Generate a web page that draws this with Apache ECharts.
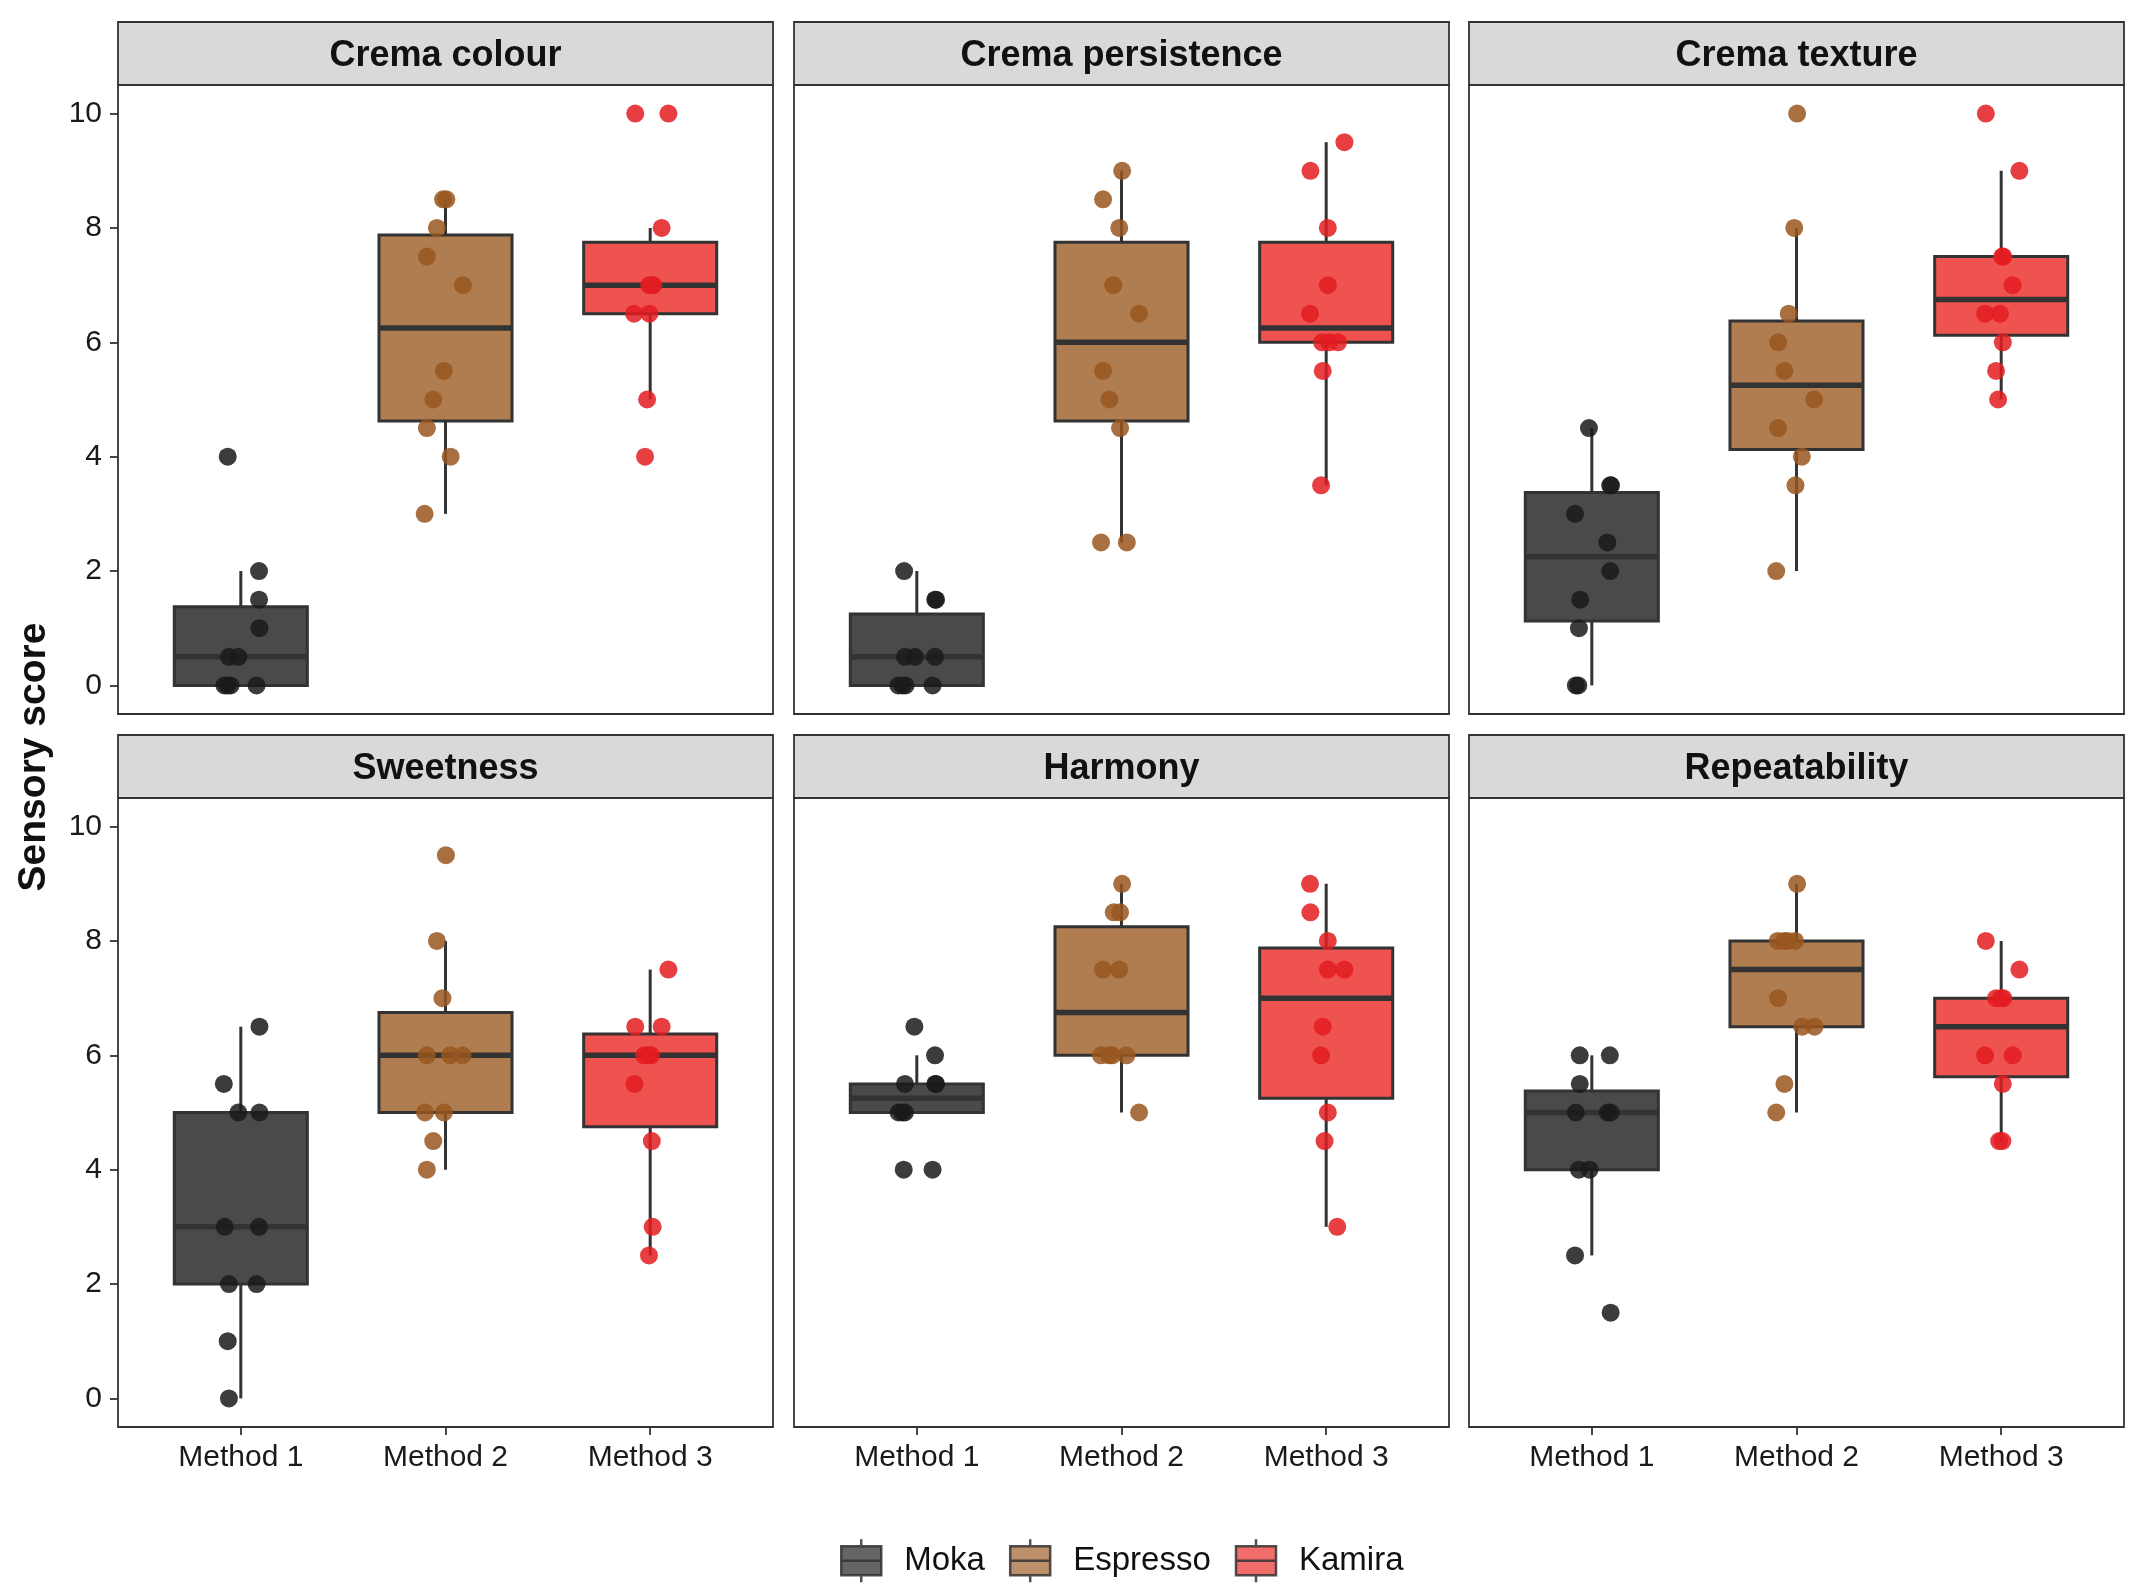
<!DOCTYPE html>
<html>
<head>
<meta charset="utf-8">
<script src="https://cdn.jsdelivr.net/npm/echarts@6/dist/echarts.min.js"></script>
<style>
  body { margin: 0; background: #fff; }
  #chart { width: 2145px; height: 1595px; }
</style>
</head>
<body>
<div id="chart"></div>
<script>
// panels, x categories and groups
const panelTitles = ['Crema colour', 'Crema persistence', 'Crema texture', 'Sweetness', 'Harmony', 'Repeatability'];
const methods = ['Method 1', 'Method 2', 'Method 3'];
const groups = ['Moka', 'Espresso', 'Kamira'];
const yTicks = [0, 2, 4, 6, 8, 10];

// scores per panel: [Moka, Espresso, Kamira]
const cremaColour = [
    [4, 2, 1.5, 1, 0.5, 0.5, 0, 0, 0, 0],
    [8.5, 8.5, 8, 7.5, 7, 5.5, 5, 4.5, 4, 3],
    [10, 10, 8, 7, 7, 7, 6.5, 6.5, 5, 4]
];
const cremaPersistence = [
    [2, 1.5, 1.5, 0.5, 0.5, 0.5, 0, 0, 0, 0],
    [9, 8.5, 8, 7, 6.5, 5.5, 5, 4.5, 2.5, 2.5],
    [9.5, 9, 8, 7, 6.5, 6, 6, 6, 5.5, 3.5]
];
const cremaTexture = [
    [4.5, 3.5, 3.5, 3, 2.5, 2, 1.5, 1, 0, 0],
    [10, 8, 6.5, 6, 5.5, 5, 4.5, 4, 3.5, 2],
    [10, 9, 7.5, 7.5, 7, 6.5, 6.5, 6, 5.5, 5]
];
const sweetness = [
    [6.5, 5.5, 5, 5, 3, 3, 2, 2, 1, 0],
    [9.5, 8, 7, 6, 6, 6, 5, 5, 4.5, 4],
    [7.5, 6.5, 6.5, 6, 6, 6, 5.5, 4.5, 3, 2.5]
];
const harmony = [
    [6.5, 6, 5.5, 5.5, 5.5, 5, 5, 5, 4, 4],
    [9, 8.5, 8.5, 7.5, 7.5, 6, 6, 6, 6, 5],
    [9, 8.5, 8, 7.5, 7.5, 6.5, 6, 5, 4.5, 3]
];
const repeatability = [
    [6, 6, 5.5, 5, 5, 5, 4, 4, 2.5, 1.5],
    [9, 8, 8, 8, 8, 7, 6.5, 6.5, 5.5, 5],
    [8, 7.5, 7, 7, 7, 6, 6, 5.5, 4.5, 4.5]
];

// horizontal jitter of each point (in category units)
const cremaColourJitter = [
    [-0.064, 0.089, 0.089, 0.091, -0.058, -0.012, -0.08, -0.065, -0.05, 0.077],
    [-0.012, 0.004, -0.042, -0.091, 0.085, -0.008, -0.06, -0.091, 0.025, -0.102],
    [-0.073, 0.089, 0.056, 0.008, -0.005, 0.015, -0.079, -0.004, -0.015, -0.025]
];
const cremaPersistenceJitter = [
    [-0.062, 0.094, 0.09, -0.058, -0.01, 0.089, -0.09, -0.07, -0.055, 0.077],
    [0.003, -0.09, -0.011, -0.04, 0.086, -0.09, -0.059, -0.007, -0.1, 0.026],
    [0.089, -0.077, 0.008, 0.008, -0.079, -0.02, 0.015, 0.058, -0.017, -0.025]
];
const cremaTextureJitter = [
    [-0.014, 0.094, 0.09, -0.082, 0.076, 0.09, -0.057, -0.063, -0.078, -0.066],
    [0.003, -0.011, -0.038, -0.09, -0.059, 0.086, -0.09, 0.026, -0.005, -0.099],
    [-0.075, 0.089, 0.01, 0.005, 0.056, -0.079, -0.006, 0.008, -0.025, -0.015]
];
const sweetnessJitter = [
    [0.091, -0.083, -0.012, 0.091, -0.079, 0.089, -0.058, 0.077, -0.064, -0.058],
    [0.002, -0.042, -0.015, -0.091, 0.023, 0.083, -0.1, -0.008, -0.06, -0.091],
    [0.089, -0.073, 0.056, -0.03, -0.01, 0.005, -0.077, 0.008, 0.012, -0.006]
];
const harmonyJitter = [
    [-0.012, 0.089, -0.058, 0.094, 0.09, -0.089, -0.07, -0.058, -0.064, 0.077],
    [0.003, -0.038, -0.007, -0.09, -0.011, -0.1, -0.06, -0.045, 0.024, 0.086],
    [-0.079, -0.077, 0.008, 0.008, 0.089, -0.017, -0.025, 0.008, -0.008, 0.054]
];
const repeatabilityJitter = [
    [-0.059, 0.088, -0.059, -0.078, 0.078, 0.092, -0.063, -0.011, -0.082, 0.092],
    [0.003, -0.092, -0.06, -0.043, -0.007, -0.09, 0.028, 0.088, -0.059, -0.099],
    [-0.075, 0.089, -0.025, 0.0, 0.01, -0.079, 0.056, 0.008, -0.01, 0.006]
];

const panelScores = [cremaColour, cremaPersistence, cremaTexture, sweetness, harmony, repeatability];
const panelJitter = [cremaColourJitter, cremaPersistenceJitter, cremaTextureJitter, sweetnessJitter, harmonyJitter, repeatabilityJitter];

// styles
const boxFill = ['#4a4a4a', '#b07d50', '#ef5350'];
const pointColor = ['#1a1a1a', '#99561f', '#e31c21'];
const ink = '#333333';
const font = 'Liberation Sans, Arial, Helvetica, sans-serif';
const boxWidth = 0.65;

// layout (px)
const colLeft = [118, 794, 1469];
const rowTop = [85, 798];
const panelW = 655;
const panelH = 629;
const stripH = 63;

// boxplot stats the ggplot way (type 7 quantiles, 1.5 IQR whiskers)
function quantile(sorted, p) {
    const h = (sorted.length - 1) * p;
    const lo = Math.floor(h), hi = Math.ceil(h);
    return sorted[lo] + (h - lo) * (sorted[hi] - sorted[lo]);
}
function boxStats(values) {
    const s = values.slice().sort((a, b) => a - b);
    const q1 = quantile(s, 0.25), med = quantile(s, 0.5), q3 = quantile(s, 0.75);
    const iqr = q3 - q1;
    const inside = s.filter(v => v >= q1 - 1.5 * iqr && v <= q3 + 1.5 * iqr);
    return [inside[0], q1, med, q3, inside[inside.length - 1]];
}

function renderBox(params, api) {
    const x = api.value(0);
    const gi = api.value(6);
    const lo = api.coord([x, api.value(1)]);
    const q1 = api.coord([x, api.value(2)]);
    const med = api.coord([x, api.value(3)]);
    const q3 = api.coord([x, api.value(4)]);
    const hi = api.coord([x, api.value(5)]);
    const half = api.size([boxWidth, 0])[0] / 2;
    const cx = q1[0];
    return {
        type: 'group',
        children: [
            {type: 'line', shape: {x1: cx, y1: hi[1], x2: cx, y2: q3[1]}, style: {stroke: ink, lineWidth: 3}},
            {type: 'line', shape: {x1: cx, y1: q1[1], x2: cx, y2: lo[1]}, style: {stroke: ink, lineWidth: 3}},
            {type: 'rect', shape: {x: cx - half, y: q3[1], width: half * 2, height: q1[1] - q3[1]},
                style: {fill: boxFill[gi], stroke: ink, lineWidth: 3}},
            {type: 'line', shape: {x1: cx - half, y1: med[1], x2: cx + half, y2: med[1]}, style: {stroke: ink, lineWidth: 5.5}}
        ]
    };
}

const grids = [], xAxes = [], yAxes = [], series = [], graphics = [];

panelTitles.forEach((title, p) => {
    const row = Math.floor(p / 3), col = p % 3;
    const left = colLeft[col], top = rowTop[row];
    grids.push({
        left: left, top: top, width: panelW, height: panelH,
        show: true, borderColor: ink, borderWidth: 1.8, backgroundColor: '#fff',
        outerBoundsMode: 'none'
    });
    xAxes.push({
        gridIndex: p, type: 'value', min: 0.4, max: 3.6, position: 'bottom',
        axisLine: {show: false, onZero: false}, splitLine: {show: false},
        axisTick: {show: row === 1, customValues: [1, 2, 3], length: 8, lineStyle: {color: ink, width: 1.8}},
        axisLabel: {
            show: row === 1, customValues: [1, 2, 3], margin: 16,
            formatter: v => methods[Math.round(v) - 1],
            fontSize: 30, fontFamily: font, color: '#1a1a1a'
        }
    });
    yAxes.push({
        gridIndex: p, type: 'value', min: -0.5, max: 10.5, position: 'left',
        axisLine: {show: false, onZero: false}, splitLine: {show: false},
        axisTick: {show: col === 0, customValues: yTicks, length: 8, lineStyle: {color: ink, width: 1.8}},
        axisLabel: {show: col === 0, customValues: yTicks, margin: 16, fontSize: 30, fontFamily: font, color: '#1a1a1a'}
    });

    const scores = panelScores[p];
    series.push({
        type: 'custom', xAxisIndex: p, yAxisIndex: p, z: 2,
        renderItem: renderBox,
        data: scores.map((vals, gi) => [gi + 1].concat(boxStats(vals), [gi]))
    });
    scores.forEach((vals, gi) => {
        series.push({
            type: 'scatter', name: groups[gi], xAxisIndex: p, yAxisIndex: p, z: 3,
            symbolSize: 18,
            itemStyle: {color: pointColor[gi], opacity: 0.85},
            data: vals.map((v, k) => [gi + 1 + panelJitter[p][gi][k], v])
        });
    });

    // facet strip
    graphics.push({
        type: 'rect', shape: {x: left, y: top - stripH, width: panelW, height: stripH},
        style: {fill: '#d9d9d9', stroke: ink, lineWidth: 1.8}
    });
    graphics.push({
        type: 'text', x: left + panelW / 2, y: top - stripH / 2 + 3,
        style: {text: title, fontSize: 36, fontWeight: 'bold', fontFamily: font, fill: '#111',
            align: 'center', verticalAlign: 'middle'}
    });
});

graphics.push({
    type: 'text', x: 34, y: 757, rotation: Math.PI / 2,
    style: {text: 'Sensory score', fontSize: 39, fontWeight: 'bold', fontFamily: font, fill: '#111',
        align: 'center', verticalAlign: 'middle'}
});

const boxIcon = 'path://M0,7 L40,7 L40,36 L0,36 Z M0,21.5 L40,21.5 M20,0 L20,7 M20,36 L20,43';

const chart = echarts.init(document.getElementById('chart'));
chart.setOption({
    animation: false,
    backgroundColor: '#fff',
    grid: grids,
    xAxis: xAxes,
    yAxis: yAxes,
    legend: {
        left: 835, top: 1533,
        itemWidth: 40, itemHeight: 44, itemGap: 24,
        selectedMode: false,
        textStyle: {fontSize: 33, fontFamily: font, color: '#111', padding: [0, 0, 0, 18]},
        data: groups.map((g, gi) => ({
            name: g, icon: boxIcon,
            itemStyle: {color: boxFill[gi], borderColor: ink, borderWidth: 2.5}
        }))
    },
    graphic: graphics,
    series: series
});
</script>
</body>
</html>
